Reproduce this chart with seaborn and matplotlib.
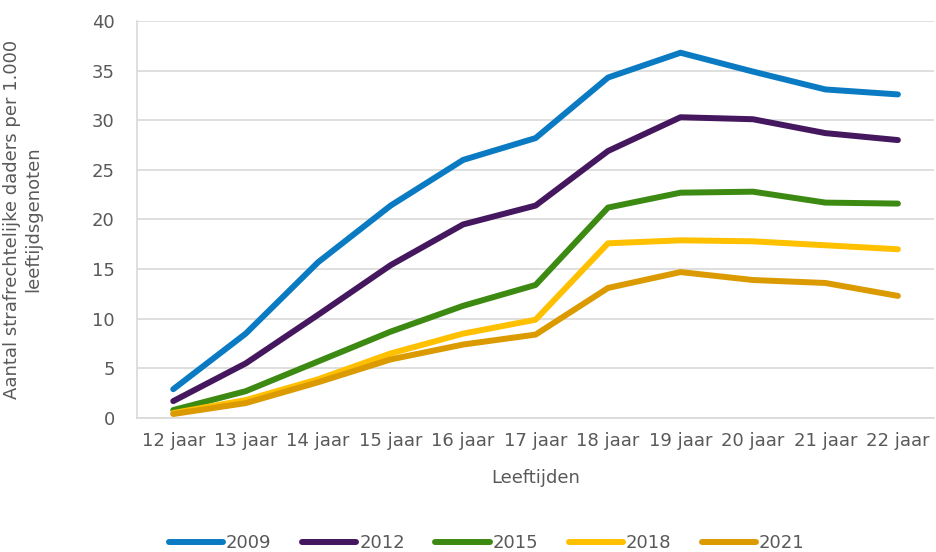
import matplotlib
matplotlib.use("Agg")
import matplotlib.pyplot as plt
import seaborn as sns
import pandas as pd

ages = ["12 jaar", "13 jaar", "14 jaar", "15 jaar", "16 jaar", "17 jaar",
        "18 jaar", "19 jaar", "20 jaar", "21 jaar", "22 jaar"]
v2009 = [2.9, 8.5, 15.7, 21.4, 26.0, 28.2, 34.3, 36.8, 34.9, 33.1, 32.6]
v2012 = [1.7, 5.5, 10.4, 15.4, 19.5, 21.4, 26.9, 30.3, 30.1, 28.7, 28.0]
v2015 = [0.8, 2.7, 5.7, 8.7, 11.3, 13.4, 21.2, 22.7, 22.8, 21.7, 21.6]
v2018 = [0.5, 1.8, 3.9, 6.5, 8.5, 9.9, 17.6, 17.9, 17.8, 17.4, 17.0]
v2021 = [0.4, 1.5, 3.6, 5.9, 7.4, 8.4, 13.1, 14.7, 13.9, 13.6, 12.3]
years = ["2009", "2012", "2015", "2018", "2021"]
series = [v2009, v2012, v2015, v2018, v2021]
colors = ["#0A7BC2", "#44175E", "#3C8A12", "#FFC000", "#DB9A00"]

rows = []
for y, vals in zip(years, series):
    for a, v in zip(ages, vals):
        rows.append({"Leeftijd": a, "Jaar": y, "Waarde": v})
df = pd.DataFrame(rows)

sns.set_theme(style="white")
plt.rcParams["font.family"] = ["DejaVu Sans"]

fig = plt.figure(figsize=(9.36, 5.52), dpi=100)
ax = fig.add_axes([0.1464, 0.2428, 0.8516, 0.7192])

sns.lineplot(data=df, x="Leeftijd", y="Waarde", hue="Jaar", hue_order=years,
             palette=dict(zip(years, colors)), linewidth=4.3, ax=ax,
             legend=False, sort=False)
for ln in ax.get_lines():
    ln.set_solid_capstyle("round")
    ln.set_solid_joinstyle("round")

ax.set_xlim(-0.5, len(ages) - 0.5)
ax.set_ylim(0, 40)
ax.set_yticks(range(0, 41, 5))
ax.yaxis.grid(True, color="#D9D9D9", linewidth=1.2)
ax.set_axisbelow(True)
for s in ["top", "right"]:
    ax.spines[s].set_visible(False)
ax.spines["left"].set_color("#D9D9D9")
ax.spines["left"].set_linewidth(1.2)
ax.spines["bottom"].set_color("#D9D9D9")
ax.spines["bottom"].set_linewidth(1.2)
ax.tick_params(axis="x", length=0, labelsize=13, colors="#595959", pad=10)
ax.tick_params(axis="y", length=0, labelsize=13, colors="#595959", pad=16)
ax.set_xlabel("Leeftijden", fontsize=13, color="#595959", labelpad=14)
ax.set_ylabel("Aantal strafrechtelijke daders per 1.000\nleeftijdsgenoten",
              fontsize=13, color="#595959", labelpad=36)

from matplotlib.lines import Line2D
handles = [Line2D([0], [0], color=c, lw=4.3, solid_capstyle="round") for c in colors]
fig.legend(handles, years, loc="lower center", ncol=5, frameon=False,
           fontsize=13, handlelength=3.0, handletextpad=0.15, columnspacing=1.7,
           bbox_to_anchor=(0.52, -0.03), labelcolor="#595959")

fig.savefig("out.png", dpi=100)
